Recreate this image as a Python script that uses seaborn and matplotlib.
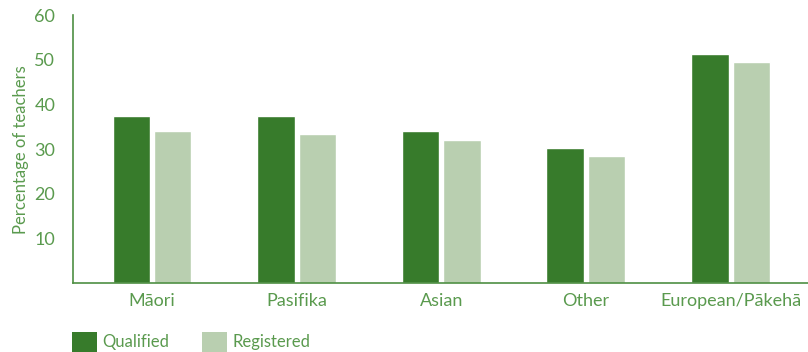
import matplotlib
matplotlib.use("Agg")
import matplotlib.pyplot as plt
import seaborn as sns
import pandas as pd
from matplotlib.patches import Patch

# Share of teachers by ethnic group
groups = ["Māori", "Pasifika", "Asian", "Other", "European/Pākehā"]
qualified = [37.5, 37.5, 34.1, 30.2, 51.3]
registered = [34.1, 33.4, 32.1, 28.4, 49.6]
series = ["Qualified", "Registered"]
yticks = [0, 10, 20, 30, 40, 50, 60]

dark = "#377B2B"
light = "#B9CFB0"
text_col = "#5A9A4E"
line_col = "#4E8F43"

df = pd.DataFrame({
    "group": groups * 2,
    "series": [series[0]] * len(groups) + [series[1]] * len(groups),
    "value": qualified + registered,
})

sns.set_theme(style="white")
plt.rcParams["font.family"] = ["Lato", "DejaVu Sans"]

fig = plt.figure(figsize=(8.08, 3.52), dpi=100)
ax = fig.add_axes([0.0907, 0.195, 0.9093, 0.762])

sns.barplot(data=df, x="group", y="value", hue="series",
            palette=[dark, light], width=0.573, gap=0.095,
            saturation=1, errorbar=None, ax=ax, legend=False)

xl = (-0.544, 4.535)
ax.set_xlim(*xl)
ax.set_ylim(0, 60)
ax.set_yticks(yticks)
ax.set_yticklabels([""] + [str(t) for t in yticks[1:]])
ax.set_xticks(range(len(groups)))
ax.set_xticklabels(groups)
ax.set_xticks([xl[0], 0.5, 1.5, 2.5, 3.5], minor=True)

for s in ["top", "right"]:
    ax.spines[s].set_visible(False)
for s in ["left", "bottom"]:
    ax.spines[s].set_color(line_col)
    ax.spines[s].set_linewidth(1.2)

ax.tick_params(axis="y", which="major", length=6, width=1.2, color=line_col,
               labelcolor=text_col, labelsize=13, pad=7)
ax.tick_params(axis="x", which="major", length=0, labelcolor=text_col,
               labelsize=13, pad=7)
ax.tick_params(axis="x", which="minor", length=6, width=1.2, color=line_col,
               direction="out")
ax.grid(False)

ax.set_xlabel("")
ax.set_ylabel("Percentage of teachers", color=text_col, fontsize=12, labelpad=4)

handles = [Patch(facecolor=dark, edgecolor="none"),
           Patch(facecolor=light, edgecolor="none")]
fig.legend(handles, series, loc="lower left", bbox_to_anchor=(0.089, 0.0),
           ncol=2, frameon=False, fontsize=12, labelcolor=text_col,
           handlelength=1.5, handleheight=1.5, handletextpad=0.3,
           columnspacing=2.0, borderpad=0, borderaxespad=0)

fig.savefig("out.png", dpi=100)
